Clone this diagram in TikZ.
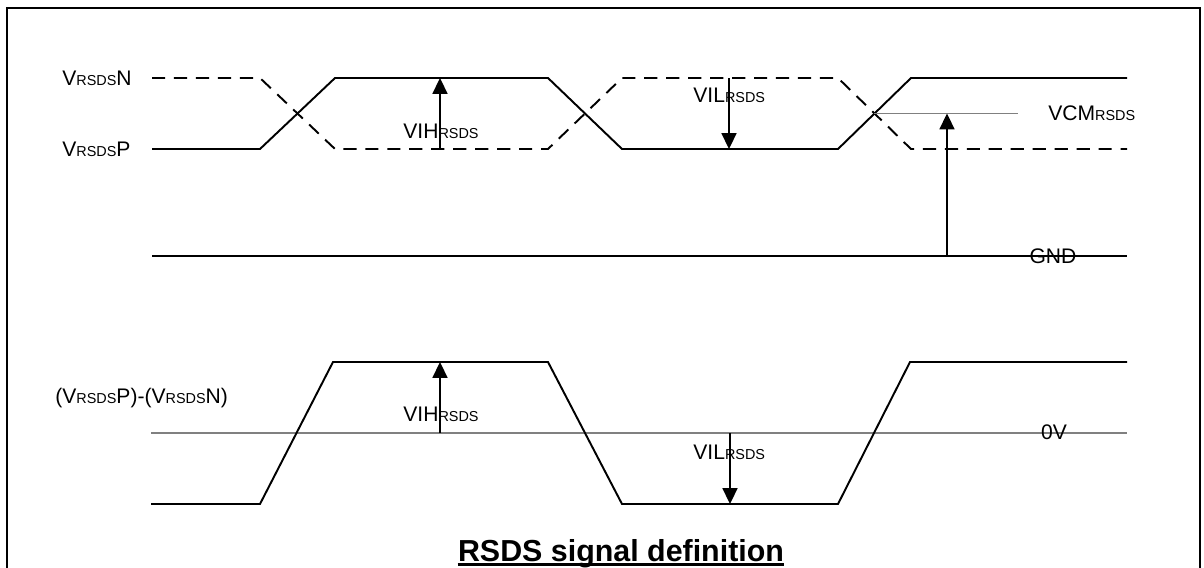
\documentclass[tikz,border=0pt]{standalone}
\usepackage{fontspec}
\setmainfont{Liberation Sans}
\usetikzlibrary{arrows.meta}

%% small letters after the V, VIH, VIL and VCM
\newcommand{\rsds}{{\fontsize{8.2}{9}\selectfont RSDS}}

\tikzset{
  sig/.style={line width=1.1pt},
  sigdash/.style={line width=1.1pt, dash pattern=on 7.5pt off 5pt},
  refline/.style={line width=0.7pt, black!50},
  lbl/.style={font=\fontsize{12}{14}\selectfont, inner sep=0pt},
  meas/.style={line width=1pt, -{Triangle[width=8.5pt,length=9pt]}}
}

\begin{document}
\begin{tikzpicture}[x=0.02cm,y=-0.02cm]
  \useasboundingbox (0,0) rectangle (1204,568);
  %% frame, open at the bottom
  \draw[line width=1.2pt] (7,568) -- (7,8) -- (1200,8) -- (1200,568);

  %% single ended signals
  \draw[sigdash] (152,78) -- (260,78) -- (335,149) -- (548,149) -- (622,78) -- (838,78) -- (911,149) -- (1127,149);
  \draw[sig] (152,149) -- (260,149) -- (335,78) -- (548,78) -- (622,149) -- (838,149) -- (911,78) -- (1127,78);
  \draw[sig] (152,256) -- (1127,256);
  \coordinate (cross) at (873.5,113.5);
  \coordinate (vcmend) at (1018,113.5);
  \draw[refline] (cross) -- (vcmend);

  \node[lbl, anchor=west] (vn) at (62,78) {V\rsds N};
  \node[lbl, anchor=west] (vp) at (62,149) {V\rsds P};
  \node[lbl, anchor=west] (vcm) at (1048,113) {VCM\rsds};
  \node[lbl] (gnd) at (1053,256) {GND};
  \node[lbl, anchor=west] (vih) at (403,131) {VIH\rsds};
  \node[lbl, anchor=west] (vil) at (693,95) {VIL\rsds};

  %% levels
  \coordinate (vihlo) at (440,149);
  \coordinate (vihhi) at (440,78);
  \coordinate (vilhi) at (729,78);
  \coordinate (villo) at (729,149);
  \coordinate (gndpt) at (947,256);
  \coordinate (vcmpt) at (947,113.5);
  \draw[meas] (vihlo) -- (vihhi);
  \draw[meas] (vilhi) -- (villo);
  \draw[meas] (gndpt) -- (vcmpt);

  %% differential signal
  \draw[refline] (151,433) -- (1127,433);
  \draw[sig] (151,504) -- (260,504) -- (333,362) -- (548,362) -- (622,504) -- (838,504) -- (910,362) -- (1127,362);

  \node[lbl, anchor=west] (diff) at (55,398) {(V\rsds P)-(V\rsds N)};
  \node[lbl] (zero) at (1054,432) {0V};
  \node[lbl, anchor=west] (vih2) at (403,414) {VIH\rsds};
  \node[lbl, anchor=west] (vil2) at (693,452) {VIL\rsds};

  \coordinate (zhi) at (440,433);
  \coordinate (dhi) at (440,362);
  \coordinate (zlo) at (730,433);
  \coordinate (dlo) at (730,504);
  \draw[meas] (zhi) -- (dhi);
  \draw[meas] (zlo) -- (dlo);

  %% caption
  \node[font=\bfseries\fontsize{17.3}{20}\selectfont, inner sep=0pt, anchor=base] (title) at (621,561) {RSDS signal definition};
  \draw[line width=1.6pt] ([yshift=-1.8pt]title.base west) -- ([yshift=-1.8pt]title.base east);
\end{tikzpicture}
\end{document}
